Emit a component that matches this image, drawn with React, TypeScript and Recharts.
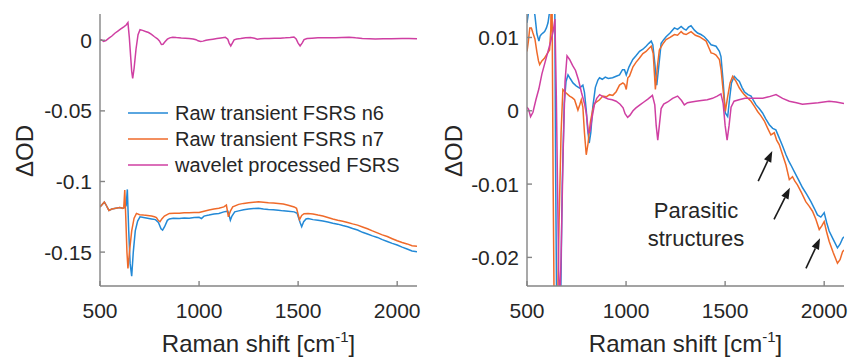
import React from 'react';
import { LineChart, Line, XAxis, YAxis, Legend, ReferenceLine } from 'recharts';

type Pt = [number, number];

const shiftTicks = [500, 1000, 1500, 2000];
const rawTicks = [-0.15, -0.1, -0.05, 0];
const zoomTicks = [-0.02, -0.01, 0, 0.01];
const seriesNames = ['Raw transient FSRS n6', 'Raw transient FSRS n7', 'wavelet processed FSRS'];
const seriesColors = ['#2389d6', '#ef6a2a', '#cf3fa2'];

// left panel: raw transient spectra (shift, ΔOD)
const n6Raw: Pt[] = [
  [500, -0.118], [510, -0.1165], [522, -0.1145], [532, -0.117], [545, -0.1205], [560, -0.1195],
  [580, -0.119], [600, -0.1185], [615, -0.119], [625, -0.1185], [632, -0.117], [638, -0.1056],
  [645, -0.135], [652, -0.158], [660, -0.167], [668, -0.15], [678, -0.135], [690, -0.128],
  [702, -0.125], [720, -0.1255], [740, -0.126], [760, -0.1265], [780, -0.127], [795, -0.129],
  [808, -0.1335], [816, -0.1344], [826, -0.132], [840, -0.1275], [850, -0.1265], [870, -0.126],
  [900, -0.1262], [925, -0.1258], [950, -0.126], [975, -0.1255], [1000, -0.1254], [1012, -0.1262],
  [1025, -0.1245], [1050, -0.1238], [1075, -0.123], [1100, -0.1226], [1125, -0.1215], [1145, -0.121],
  [1152, -0.124], [1158, -0.1274], [1166, -0.1245], [1180, -0.1215], [1200, -0.1208], [1225, -0.12],
  [1250, -0.1195], [1275, -0.1192], [1300, -0.119], [1325, -0.1195], [1350, -0.1198], [1375, -0.12],
  [1400, -0.1203], [1425, -0.1208], [1450, -0.121], [1480, -0.1215], [1495, -0.1225], [1510, -0.129],
  [1518, -0.132], [1528, -0.1285], [1540, -0.1265], [1550, -0.1262], [1575, -0.127], [1600, -0.1274],
  [1625, -0.128], [1650, -0.1287], [1675, -0.1295], [1700, -0.1302], [1725, -0.1312], [1750, -0.132],
  [1775, -0.1333], [1800, -0.1344], [1825, -0.136], [1850, -0.1372], [1875, -0.1385], [1900, -0.1396],
  [1925, -0.1412], [1950, -0.1425], [1975, -0.1438], [2000, -0.145], [2025, -0.1465], [2050, -0.1478],
  [2075, -0.1492], [2100, -0.1498],
];

const n7Raw: Pt[] = [
  [500, -0.118], [510, -0.1165], [522, -0.1145], [532, -0.117], [545, -0.1205], [560, -0.1195],
  [580, -0.119], [600, -0.1185], [615, -0.119], [620, -0.1185], [625, -0.106], [630, -0.125],
  [636, -0.15], [641, -0.1616], [650, -0.148], [660, -0.135], [672, -0.126], [684, -0.1226],
  [700, -0.1235], [720, -0.1238], [740, -0.124], [760, -0.1245], [775, -0.125], [785, -0.1255],
  [794, -0.1275], [803, -0.1285], [812, -0.1265], [825, -0.1245], [850, -0.1226], [875, -0.1225],
  [900, -0.1224], [925, -0.1222], [950, -0.1222], [975, -0.122], [1000, -0.1219], [1025, -0.121],
  [1050, -0.1202], [1075, -0.1195], [1100, -0.119], [1125, -0.118], [1138, -0.1167], [1148, -0.125],
  [1158, -0.121], [1170, -0.118], [1200, -0.1162], [1225, -0.1155], [1250, -0.115], [1275, -0.1147],
  [1300, -0.1144], [1325, -0.1147], [1350, -0.115], [1375, -0.1152], [1400, -0.1155], [1425, -0.116],
  [1450, -0.1168], [1480, -0.118], [1492, -0.119], [1507, -0.127], [1518, -0.124], [1530, -0.1228],
  [1550, -0.1226], [1575, -0.123], [1600, -0.1238], [1625, -0.1245], [1650, -0.1255], [1675, -0.1265],
  [1700, -0.1274], [1725, -0.1282], [1750, -0.129], [1775, -0.13], [1800, -0.1309], [1825, -0.1322],
  [1850, -0.1335], [1875, -0.135], [1900, -0.1364], [1925, -0.1378], [1950, -0.139], [1975, -0.1405],
  [2000, -0.142], [2025, -0.1432], [2050, -0.1442], [2075, -0.1455], [2100, -0.1458],
];

// wavelet processed spectrum, drawn in both panels
const wavelet: Pt[] = [
  [500, 0.0005], [508, 0.0002], [518, -0.0008], [530, -0.0002], [545, 0.0015], [560, 0.003],
  [575, 0.005], [590, 0.0065], [605, 0.008], [620, 0.0095], [632, 0.0108], [641, 0.0125],
  [648, 0.002], [655, -0.012], [660, -0.022], [665, -0.027], [672, -0.02], [682, -0.006],
  [692, 0.004], [702, 0.0075], [715, 0.007], [730, 0.0062], [745, 0.0055], [760, 0.0042],
  [775, 0.0025], [790, 0.001], [800, -0.0005], [810, -0.003], [818, -0.0028], [828, -0.001],
  [840, 0.0008], [852, 0.0017], [867, 0.0022], [885, 0.0019], [910, 0.0016], [930, 0.0015],
  [950, 0.0013], [970, 0.0009], [985, 0.0004], [995, -0.0004], [1008, -0.0009], [1020, -0.0006],
  [1035, 0.0], [1050, 0.0004], [1070, 0.0008], [1090, 0.0012], [1110, 0.0016], [1133, 0.0021],
  [1145, 0.0008], [1152, -0.002], [1160, -0.004], [1168, -0.002], [1177, 0.0003], [1190, 0.0009],
  [1210, 0.0012], [1235, 0.0017], [1260, 0.002], [1280, 0.0014], [1294, 0.0008], [1310, 0.0011],
  [1330, 0.0012], [1353, 0.0013], [1380, 0.0014], [1410, 0.0015], [1436, 0.0017], [1460, 0.002],
  [1479, 0.0023], [1490, 0.001], [1500, -0.002], [1510, -0.004], [1520, -0.002], [1530, 0.0005],
  [1545, 0.0013], [1570, 0.0015], [1600, 0.0017], [1650, 0.0017], [1690, 0.0017], [1720, 0.0019],
  [1757, 0.0022], [1790, 0.0017], [1824, 0.0013], [1860, 0.0011], [1890, 0.0009], [1930, 0.001],
  [1970, 0.0011], [2025, 0.0013], [2060, 0.0012], [2100, 0.001],
];

// right panel: baseline-corrected raw spectra
const n6Zoom: Pt[] = [
  [500, 0.012], [508, 0.0135], [514, 0.015], [520, 0.016], [530, 0.0145], [540, 0.013],
  [550, 0.0105], [560, 0.0095], [566, 0.0102], [572, 0.0104], [580, 0.0106], [589, 0.0108],
  [598, 0.0113], [606, 0.012], [614, 0.0135], [625, 0.014], [632, 0.016], [638, 0.025],
  [645, -0.01], [652, -0.035], [660, -0.045], [668, -0.03], [678, -0.01], [688, 0.001],
  [697, 0.004], [707, 0.0049], [718, 0.0044], [732, 0.0038], [748, 0.0034], [765, 0.0031],
  [782, 0.0035], [790, 0.0025], [799, 0.0001], [806, -0.0025], [814, -0.0044], [822, -0.003],
  [832, 0.0005], [845, 0.0032], [858, 0.0042], [866, 0.0045], [880, 0.0043], [895, 0.0046],
  [910, 0.0044], [932, 0.0045], [950, 0.0047], [967, 0.0049], [982, 0.0056], [992, 0.0056],
  [1001, 0.0049], [1015, 0.006], [1034, 0.007], [1050, 0.0075], [1068, 0.0081], [1085, 0.0084],
  [1101, 0.0088], [1115, 0.0092], [1127, 0.0095], [1135, 0.009], [1145, 0.0065], [1155, 0.0035],
  [1163, 0.0055], [1177, 0.0092], [1190, 0.0097], [1202, 0.0101], [1222, 0.0106], [1244, 0.0113],
  [1260, 0.0111], [1278, 0.0115], [1290, 0.0112], [1303, 0.011], [1315, 0.0114], [1328, 0.0116],
  [1345, 0.011], [1361, 0.0106], [1378, 0.0104], [1395, 0.0101], [1412, 0.0096], [1429, 0.009],
  [1442, 0.0089], [1454, 0.0088], [1471, 0.0081], [1479, 0.0074], [1490, 0.004], [1501, -0.0003],
  [1513, -0.0008], [1522, 0.0015], [1532, 0.0038], [1546, 0.0047], [1560, 0.0043], [1572, 0.004],
  [1585, 0.0032], [1597, 0.0026], [1615, 0.0022], [1631, 0.002], [1645, 0.0013], [1656, 0.0008],
  [1672, 0.0003], [1689, -0.0003], [1705, -0.0011], [1723, -0.0019], [1740, -0.0024], [1756, -0.0026],
  [1773, -0.0037], [1790, -0.0048], [1807, -0.006], [1820, -0.0068], [1832, -0.0074], [1849, -0.0083],
  [1870, -0.0094], [1891, -0.0105], [1912, -0.0114], [1933, -0.0124], [1950, -0.0133], [1966, -0.0142],
  [1983, -0.0145], [2000, -0.0139], [2012, -0.0152], [2025, -0.0164], [2045, -0.0175], [2067, -0.0187],
  [2080, -0.0182], [2093, -0.0174], [2100, -0.0172],
];

const n7Zoom: Pt[] = [
  [500, 0.0081], [507, 0.0095], [514, 0.0113], [522, 0.0113], [530, 0.0106], [540, 0.0098],
  [550, 0.008], [558, 0.0068], [564, 0.0063], [575, 0.0068], [589, 0.0072], [600, 0.0077],
  [614, 0.0083], [620, 0.011], [625, 0.022], [632, -0.01], [641, -0.04], [652, -0.03],
  [662, -0.015], [672, -0.003], [681, 0.0029], [695, 0.0025], [715, 0.002], [728, 0.0018],
  [740, 0.0015], [757, 0.0001], [766, 0.0008], [774, 0.0015], [782, 0.0005], [790, -0.003],
  [799, -0.006], [808, -0.0045], [820, -0.0015], [832, 0.0002], [841, 0.001], [866, 0.0015],
  [883, 0.002], [900, 0.0019], [917, 0.0022], [933, 0.0021], [950, 0.0026], [967, 0.0035],
  [984, 0.0038], [993, 0.0036], [1001, 0.0029], [1009, 0.0045], [1017, 0.0047], [1035, 0.006],
  [1050, 0.0066], [1068, 0.0072], [1085, 0.0078], [1101, 0.0081], [1115, 0.0085], [1127, 0.0088],
  [1137, 0.0078], [1148, 0.0029], [1158, 0.006], [1168, 0.0083], [1185, 0.0091], [1202, 0.0097],
  [1222, 0.01], [1244, 0.0104], [1260, 0.0103], [1278, 0.0108], [1290, 0.0105], [1303, 0.0104],
  [1315, 0.0106], [1328, 0.0108], [1350, 0.0103], [1370, 0.0101], [1387, 0.0098], [1404, 0.0095],
  [1418, 0.0086], [1429, 0.0079], [1442, 0.0078], [1454, 0.0076], [1471, 0.007], [1480, 0.0055],
  [1488, 0.0033], [1501, -0.0001], [1512, 0.0018], [1525, 0.0038], [1538, 0.0047], [1555, 0.004],
  [1572, 0.0031], [1585, 0.0026], [1597, 0.0022], [1615, 0.0017], [1631, 0.0013], [1648, 0.0006],
  [1664, -0.0001], [1681, -0.0007], [1698, -0.0014], [1715, -0.0024], [1731, -0.0033], [1748, -0.003],
  [1760, -0.004], [1773, -0.0046], [1790, -0.006], [1807, -0.0074], [1824, -0.0094], [1840, -0.009],
  [1852, -0.0096], [1865, -0.0101], [1886, -0.0112], [1907, -0.0124], [1924, -0.013], [1941, -0.0137],
  [1958, -0.0148], [1975, -0.0162], [1988, -0.0157], [2000, -0.0151], [2012, -0.0165], [2025, -0.0178],
  [2045, -0.0193], [2067, -0.0208], [2080, -0.0203], [2093, -0.0192], [2100, -0.019],
];

// arrows pointing at the parasitic structures: [tail, head]
const arrows: [Pt, Pt][] = [
  [[1667, -0.0096], [1738, -0.0055]],
  [[1747, -0.0148], [1827, -0.0105]],
  [[1908, -0.0215], [1979, -0.0174]],
];

const rows = (pts: Pt[]) => pts.map(([shift, od]) => ({ shift, od }));

const FONT = '"Liberation Sans", Arial, Helvetica, sans-serif';
const TEXT = '#262626';
const AXIS = '#858585';
const tickStyle = { fontSize: 21, fill: TEXT, fontFamily: FONT };

const ramanTitle = (props: any) => {
  const vb = props.viewBox;
  return (
    <text x={vb.x + vb.width / 2} y={352} textAnchor="middle" fontSize={24} fill={TEXT} fontFamily={FONT}>
      Raman shift [cm
      <tspan dy={-10} fontSize={15}>-1</tspan>
      <tspan dy={10}>]</tspan>
    </text>
  );
};

const odTitle = (x: number) => (props: any) => {
  const vb = props.viewBox;
  const cy = vb.y + vb.height / 2 + 1;
  return (
    <text x={x} y={cy} transform={`rotate(-90, ${x}, ${cy})`} textAnchor="middle" fontSize={24} fill={TEXT} fontFamily={FONT}>
      ΔOD
    </text>
  );
};

const Arrow = (p: any) => {
  const { x1, y1, x2, y2 } = p;
  const a = Math.atan2(y2 - y1, x2 - x1);
  const len = 11;
  const half = 4;
  const bx = x2 - len * Math.cos(a);
  const by = y2 - len * Math.sin(a);
  const nx = -Math.sin(a) * half;
  const ny = Math.cos(a) * half;
  return (
    <g>
      <line x1={x1} y1={y1} x2={bx} y2={by} stroke="#1a1a1a" strokeWidth={1.6} />
      <polygon points={`${x2},${y2} ${bx + nx},${by + ny} ${bx - nx},${by - ny}`} fill="#1a1a1a" />
    </g>
  );
};

const renderLegend = () => (
  <div style={{ fontFamily: FONT, fontSize: 20, color: TEXT }}>
    {seriesNames.map((name, i) => (
      <div key={name} style={{ display: 'flex', alignItems: 'center', height: 26, whiteSpace: 'nowrap' }}>
        <svg width={40} height={26} style={{ marginRight: 7 }}>
          <line x1={0} y1={13} x2={40} y2={13} stroke={seriesColors[i]} strokeWidth={1.6} />
        </svg>
        <span style={{ lineHeight: '26px' }}>{name}</span>
      </div>
    ))}
  </div>
);

export default function App() {
  const lineProps = { dot: false, isAnimationActive: false, strokeWidth: 1.5, dataKey: 'od', type: 'linear' as const };
  const axisLine = { stroke: AXIS, strokeWidth: 1.4 };
  return (
    <div style={{ position: 'absolute', left: 0, top: 0, width: 848, height: 357, background: '#fff' }}>
      <div style={{ position: 'absolute', left: 0, top: 0 }}>
        <LineChart width={430} height={357} margin={{ top: 14, right: 13, bottom: 0, left: 0 }}>
          <XAxis dataKey="shift" type="number" domain={[500, 2100]} ticks={shiftTicks} allowDataOverflow
            height={71} tickSize={-5} tickMargin={22} axisLine={axisLine} tickLine={axisLine} tick={tickStyle}
            interval={0} label={{ content: ramanTitle }} />
          <XAxis xAxisId="top" orientation="top" dataKey="shift" type="number" domain={[500, 2100]}
            ticks={shiftTicks} allowDataOverflow height={0} tickSize={-5} axisLine={axisLine} tickLine={axisLine}
            tick={false} interval={0} />
          <YAxis type="number" domain={[-0.174, 0.0186]} ticks={rawTicks} allowDataOverflow width={100}
            tickSize={-5} tickMargin={13} axisLine={axisLine} tickLine={axisLine} tick={tickStyle} interval={0}
            tickFormatter={(v: number) => String(v)} label={{ content: odTitle(33) }} />
          <YAxis yAxisId="r" orientation="right" type="number" domain={[-0.174, 0.0186]} ticks={rawTicks}
            allowDataOverflow width={0} tickSize={-5} axisLine={axisLine} tickLine={axisLine} tick={false}
            interval={0} />
          <Legend layout="vertical" align="center" verticalAlign="middle" content={renderLegend}
            wrapperStyle={{ position: 'absolute', left: 128, top: 100, width: 300, height: 80 }} />
          <Line {...lineProps} data={rows(n6Raw)} name={seriesNames[0]} stroke={seriesColors[0]} />
          <Line {...lineProps} data={rows(n7Raw)} name={seriesNames[1]} stroke={seriesColors[1]} />
          <Line {...lineProps} data={rows(wavelet)} name={seriesNames[2]} stroke={seriesColors[2]} />
        </LineChart>
      </div>
      <div style={{ position: 'absolute', left: 430, top: 0 }}>
        <LineChart width={418} height={357} margin={{ top: 14, right: 4, bottom: 0, left: 0 }}>
          <XAxis dataKey="shift" type="number" domain={[500, 2100]} ticks={shiftTicks} allowDataOverflow
            height={71} tickSize={-5} tickMargin={22} axisLine={axisLine} tickLine={axisLine} tick={tickStyle}
            interval={0} label={{ content: ramanTitle }} />
          <XAxis xAxisId="top" orientation="top" dataKey="shift" type="number" domain={[500, 2100]}
            ticks={shiftTicks} allowDataOverflow height={0} tickSize={-5} axisLine={axisLine} tickLine={axisLine}
            tick={false} interval={0} />
          <YAxis type="number" domain={[-0.0239, 0.0132]} ticks={zoomTicks} allowDataOverflow width={97}
            tickSize={-5} tickMargin={13} axisLine={axisLine} tickLine={axisLine} tick={tickStyle} interval={0}
            tickFormatter={(v: number) => String(v)} label={{ content: odTitle(32) }} />
          <YAxis yAxisId="r" orientation="right" type="number" domain={[-0.0239, 0.0132]} ticks={zoomTicks}
            allowDataOverflow width={0} tickSize={-5} axisLine={axisLine} tickLine={axisLine} tick={false}
            interval={0} />
          <Line {...lineProps} data={rows(n6Zoom)} name={seriesNames[0]} stroke={seriesColors[0]} />
          <Line {...lineProps} data={rows(n7Zoom)} name={seriesNames[1]} stroke={seriesColors[1]} />
          <Line {...lineProps} data={rows(wavelet)} name={seriesNames[2]} stroke={seriesColors[2]} />
          {arrows.map(([tail, head], i) => (
            <ReferenceLine key={i} segment={[{ x: tail[0], y: tail[1] }, { x: head[0], y: head[1] }]}
              shape={Arrow} />
          ))}
        </LineChart>
      </div>
      <div style={{ position: 'absolute', left: 616, top: 197, width: 160, textAlign: 'center',
        fontFamily: FONT, fontSize: 22, lineHeight: '27.5px', color: TEXT }}>
        Parasitic<br />structures
      </div>
    </div>
  );
}
